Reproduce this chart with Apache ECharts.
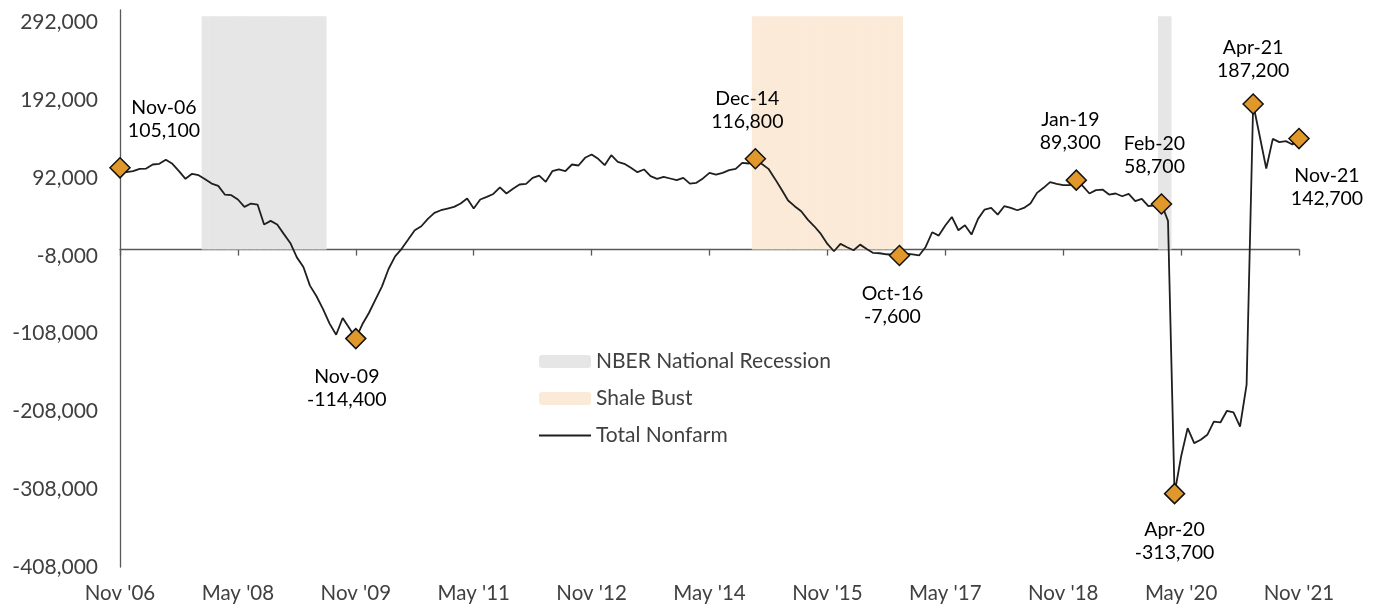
<!DOCTYPE html>
<html>
<head>
<meta charset="utf-8">
<script src="https://cdn.jsdelivr.net/npm/echarts@6/dist/echarts.min.js"></script>
<style>
  html, body { margin: 0; padding: 0; background: #fff; }
  #chart { width: 1380px; height: 611px; }
</style>
</head>
<body>
<div id="chart"></div>
<script>
// over-the-year change in total nonfarm jobs, monthly Nov 2006 .. Nov 2021
const startYear = 2006, startMonth = 10; // Nov
const monthNames = ['Jan','Feb','Mar','Apr','May','Jun','Jul','Aug','Sep','Oct','Nov','Dec'];

const nonfarm = [
  105100, 99500,
  100800, 103800, 104200, 109400, 110300, 115400, 110300, 100800, 91000, 97400, 95600, 90500,
  84900, 81900, 70800, 69900, 64400, 54900, 59200, 57900, 32200, 36900, 32200, 20200,
  8600, -10000, -22300, -46300, -60000, -76400, -95200, -109400, -87900, -100800, -114400, -96000,
  -81500, -64400, -47200, -24900, -8600, 1000, 12900, 24900, 30000, 39500, 47200, 50600,
  52800, 54900, 59200, 65600, 52800, 64400, 67800, 71500, 80000, 72100, 78100, 83700,
  84500, 92200, 95200, 87100, 100800, 103000, 100800, 109400, 108100, 118000, 122300, 116700,
  108500, 121400, 112900, 110300, 105100, 99500, 103000, 94400, 91000, 93600, 91400, 89200,
  92200, 84900, 85800, 91500, 98700, 96500, 98700, 102100, 103800, 111600, 110700, 116800,
  110000, 103800, 90900, 77200, 63100, 55800, 49300, 38600, 30000, 20200, 7300, -2100,
  7300, 3000, -900, 6400, 900, -4300, -4700, -6000, -6400, -7600, -5100, -6000,
  -7500, 3400, 22300, 18000, 30900, 42000, 24900, 31300, 19300, 39500, 51500, 53600,
  45000, 55800, 53600, 50600, 53600, 59200, 72900, 79400, 86700, 84500, 82800, 82800,
  89300, 81500, 72100, 76400, 77200, 70800, 72100, 68600, 71700, 62200, 65200, 55800,
  57000, 58700, 37000, -313700, -266000, -229500, -248800, -244500, -238100, -221000, -222200, -207200,
  -209300, -227400, -173700, 187200, 146000, 104200, 142400, 138100, 139400, 135100, 142700
];

const yTicks = [-408000, -308000, -208000, -108000, -8000, 92000, 192000, 292000];

const recessions = [['Dec-07', 'Jun-09'], ['Feb-20', 'Mar-20']];
const shaleBust = [['Dec-14', 'Oct-16']];
const shadeTop = 300000;

const callouts = ['Nov-06', 'Nov-09', 'Dec-14', 'Oct-16', 'Jan-19', 'Feb-20', 'Apr-20', 'Apr-21', 'Nov-21'];

// label placement for each callout
const calloutLabel = {
  'Nov-06': { pos: 'top', dx: 44, dy: 0 },
  'Nov-09': { pos: 'bottom', dx: -9, dy: 1 },
  'Dec-14': { pos: 'top', dx: -8, dy: 0 },
  'Oct-16': { pos: 'bottom', dx: -7, dy: 1 },
  'Jan-19': { pos: 'top', dx: -6, dy: 0 },
  'Feb-20': { pos: 'top', dx: -7, dy: 0 },
  'Apr-20': { pos: 'bottom', dx: 0, dy: -1 },
  'Apr-21': { pos: 'top', dx: 0, dy: 4 },
  'Nov-21': { pos: 'bottom', dx: 28, dy: 0 }
};

const months = [];
for (let i = 0; i < nonfarm.length; i++) {
  const m = (startMonth + i) % 12;
  const y = startYear + Math.floor((startMonth + i) / 12);
  months.push(monthNames[m] + '-' + String(y).slice(2));
}

function shade(periods) {
  return months.map((m, i) => periods.some(p => i >= months.indexOf(p[0]) && i <= months.indexOf(p[1])) ? shadeTop : '-');
}

const fmt = v => v.toLocaleString('en-US');
const font = 'Lato';

const calloutData = callouts.map(c => {
  const i = months.indexOf(c);
  const l = calloutLabel[c];
  return {
    value: [i, nonfarm[i]],
    label: { position: l.pos, offset: [l.dx, l.dy] }
  };
});

const chart = echarts.init(document.getElementById('chart'));
chart.setOption({
  animation: false,
  grid: { left: 120, right: 81, top: 10, bottom: 44 },
  legend: {
    orient: 'vertical',
    left: 538,
    top: 351,
    padding: 0,
    itemWidth: 52,
    itemHeight: 13,
    itemGap: 16,
    textStyle: { color: '#404040', fontSize: 21, fontFamily: font, lineHeight: 20 },
    data: [
      'NBER National Recession',
      'Shale Bust',
      { name: 'Total Nonfarm', itemStyle: { color: 'rgba(0,0,0,0)', borderWidth: 0, opacity: 0 } }
    ]
  },
  xAxis: [
    {
      type: 'category',
      data: months,
      boundaryGap: false,
      position: 'bottom',
      axisLine: { show: false, onZero: false },
      axisTick: { show: false },
      axisLabel: {
        interval: 17,
        margin: 16,
        color: '#404040',
        fontSize: 20.5,
        fontFamily: font,
        formatter: v => v.replace('-', " '")
      }
    },
    {
      type: 'category',
      data: months,
      boundaryGap: false,
      position: 'top',
      axisLine: { onZero: true, lineStyle: { color: '#595959', width: 1.3 } },
      axisTick: { interval: 17, inside: true, length: 6, lineStyle: { color: '#595959', width: 1.3 } },
      axisLabel: { show: false }
    }
  ],
  yAxis: {
    type: 'value',
    min: -408000,
    max: 308000,
    splitLine: { show: false },
    axisLine: { show: true, lineStyle: { color: '#595959', width: 1.3 } },
    axisTick: { show: false },
    axisLabel: {
      customValues: yTicks,
      margin: 22,
      color: '#404040',
      fontSize: 21,
      fontFamily: font,
      formatter: v => fmt(v)
    }
  },
  series: [
    {
      name: 'NBER National Recession',
      type: 'bar',
      data: shade(recessions),
      barWidth: 7,
      barGap: '-100%',
      itemStyle: { color: '#E6E6E6' },
      silent: true
    },
    {
      name: 'Shale Bust',
      type: 'bar',
      data: shade(shaleBust),
      barWidth: 7,
      barGap: '-100%',
      itemStyle: { color: '#FAEAD7' },
      silent: true
    },
    {
      name: 'Total Nonfarm',
      type: 'line',
      data: nonfarm,
      symbol: 'none',
      lineStyle: { color: '#1f1f1f', width: 1.8 },
      itemStyle: { color: '#1f1f1f' },
      z: 3
    },
    {
      type: 'scatter',
      data: calloutData,
      symbol: 'diamond',
      symbolSize: 20,
      itemStyle: { color: '#E0982A', borderColor: '#111', borderWidth: 1.5, opacity: 1 },
      label: {
        show: true,
        distance: 15,
        color: '#000',
        fontSize: 19.5,
        fontFamily: font,
        lineHeight: 23,
        align: 'center',
        formatter: p => months[p.value[0]] + '\n' + fmt(p.value[1])
      },
      z: 5
    }
  ]
});
</script>
</body>
</html>
